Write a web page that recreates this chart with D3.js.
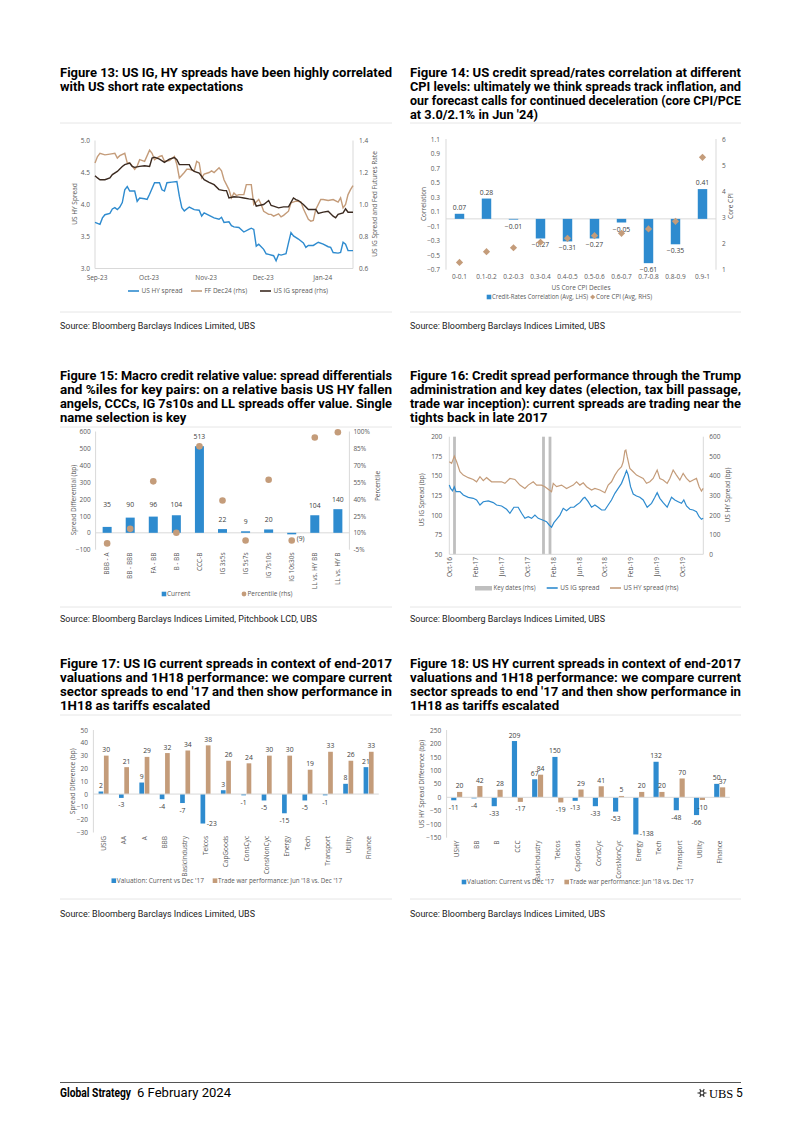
<!DOCTYPE html>
<html><head><meta charset="utf-8">
<script src="https://cdn.jsdelivr.net/npm/d3@7"></script>
<style>body{margin:0;background:#fff}svg{display:block}</style>
</head><body>
<svg id="page" width="802" height="1134"></svg>
<script>
// ---------------- DATA ----------------
// Figure 13 (x = trading-day index from 1 Sep 2023)
const f13XTicks = [0, 21, 44, 67, 91];
const f13XLabels = ['Sep-23', 'Oct-23', 'Nov-23', 'Dec-23', 'Jan-24'];
const f13LeftTicks = [3.0, 3.5, 4.0, 4.5, 5.0];
const f13RightTicks = [0.6, 0.8, 1.0, 1.2, 1.4];
const f13HY = [[0,3.72],[2,3.69],[3,3.79],[4,3.84],[6,3.86],[7,3.93],[8,3.95],[9,3.92],[10,3.96],[11,4.03],[12,4.23],[13,4.28],[14,4.21],[16,4.21],[17,4.05],[18,4.10],[20,4.09],[21,4.08],[22,4.16],[24,4.34],[26,4.34],[27,4.23],[28,4.21],[29,4.34],[31,4.35],[33,4.36],[34,4.13],[35,3.95],[36,3.90],[38,3.96],[40,3.92],[42,3.91],[43,3.82],[44,3.87],[46,3.83],[48,3.79],[50,3.77],[51,3.80],[52,3.72],[54,3.73],[55,3.67],[56,3.65],[58,3.64],[60,3.57],[62,3.61],[63,3.63],[64,3.61],[65,3.35],[66,3.38],[68,3.30],[69,3.23],[70,3.22],[72,3.20],[73,3.12],[74,3.22],[75,3.21],[77,3.23],[78,3.40],[79,3.56],[80,3.51],[82,3.46],[84,3.40],[85,3.33],[86,3.36],[88,3.36],[90,3.41],[92,3.38],[94,3.34],[95,3.33],[96,3.25],[98,3.24],[99,3.25],[100,3.41],[101,3.38],[102,3.28],[104,3.28]];
const f13FF = [[0,1.26],[1,1.30],[2,1.32],[4,1.31],[6,1.315],[8,1.32],[9,1.29],[10,1.305],[12,1.32],[13,1.26],[14,1.26],[16,1.22],[17,1.24],[18,1.28],[20,1.27],[22,1.34],[23,1.32],[24,1.28],[26,1.30],[27,1.305],[28,1.27],[30,1.275],[32,1.30],[33,1.25],[34,1.166],[36,1.20],[37,1.22],[38,1.22],[40,1.21],[41,1.27],[42,1.26],[43,1.166],[44,1.19],[46,1.20],[47,1.21],[48,1.20],[50,1.23],[51,1.21],[52,1.155],[54,1.093],[55,1.041],[56,1.072],[57,1.056],[58,1.062],[60,1.062],[61,1.124],[63,1.124],[64,1.0],[66,1.031],[67,1.0],[68,0.958],[70,0.938],[71,0.938],[72,0.927],[74,0.942],[75,0.923],[76,0.932],[78,0.958],[79,1.01],[81,1.021],[83,1.017],[84,0.973],[86,0.907],[87,0.896],[88,0.90],[89,0.969],[91,1.031],[92,1.031],[94,1.025],[96,1.031],[98,1.015],[99,1.041],[100,0.979],[101,1.0],[102,1.062],[103,1.093],[104,1.118]];
const f13IG = [[0,1.18],[1,1.166],[2,1.155],[4,1.155],[6,1.166],[7,1.187],[9,1.207],[11,1.238],[12,1.249],[14,1.259],[15,1.238],[16,1.232],[18,1.238],[20,1.242],[22,1.238],[23,1.29],[24,1.296],[26,1.284],[28,1.263],[30,1.284],[32,1.294],[33,1.28],[34,1.249],[36,1.249],[38,1.249],[39,1.218],[40,1.207],[42,1.197],[43,1.176],[44,1.155],[46,1.139],[48,1.124],[50,1.093],[52,1.087],[53,1.087],[54,1.041],[56,1.048],[58,1.046],[60,1.041],[62,1.035],[64,1.031],[65,0.99],[66,0.994],[68,1.0],[70,1.025],[71,0.994],[72,0.99],[74,0.979],[76,0.985],[78,0.985],[80,1.041],[81,1.031],[82,1.025],[84,1.0],[86,0.969],[88,0.969],[89,0.969],[90,0.944],[92,0.952],[94,0.958],[96,0.927],[97,0.917],[98,0.938],[100,0.948],[101,0.973],[102,0.952],[104,0.952]];

// Figure 14
const f14Cats = ['0-0.1','0.1-0.2','0.2-0.3','0.3-0.4','0.4-0.5','0.5-0.6','0.6-0.7','0.7-0.8','0.8-0.9','0.9-1'];
const f14Corr = [0.07, 0.28, -0.01, -0.27, -0.31, -0.27, -0.05, -0.61, -0.35, 0.41];
const f14CPI = [1.28, 1.69, 1.84, 2.05, 2.20, 2.30, 2.39, 2.56, 2.85, 5.30];
const f14LeftTicks = [-0.7,-0.5,-0.3,-0.1,0.1,0.3,0.5,0.7,0.9,1.1];
const f14RightTicks = [1,2,3,4,5,6];

// Figure 15
const f15Cats = ['BBB - A','BB - BBB','FA - BB','B - BB','CCC-B','IG 3s5s','IG 5s7s','IG 7s10s','IG 10s30s','LL vs. HY BB','LL vs. HY B'];
const f15Current = [35, 90, 96, 104, 513, 22, 9, 20, -9, 104, 140];
const f15Pct = [0.6, 13.5, 55.7, 10, 86.8, 38.7, 3.2, 57.2, 3.2, 94.7, 99.4];
const f15RatingPairs = ['BBB - A','BB - BBB','FA - BB','B - BB'];
const f15LeftTicks = [-100,0,100,200,300,400,500,600];
const f15RightTicks = [-5,10,25,40,55,70,85,100];

// Figure 16 (x = months since Oct 2016)
const f16XTicks = [0,4,8,12,16,20,24,28,32,36];
const f16XLabels = ['Oct-16','Feb-17','Jun-17','Oct-17','Feb-18','Jun-18','Oct-18','Feb-19','Jun-19','Oct-19'];
const f16KeyDates = [0.8, 14.5, 15.5];
const f16LeftTicks = [50,75,100,125,150,175,200];
const f16RightTicks = [0,100,200,300,400,500,600];
const f16IG = [[0,138.4],[0.2,134],[0.5,131],[0.77,136],[1.03,130],[1.64,130],[2.15,125.6],[2.92,122.7],[3.69,121.4],[4.2,119.3],[4.72,112.9],[5.23,117],[6.0,118],[6.77,115.9],[7.28,112.9],[8.05,111.6],[8.82,107.4],[9.33,102.3],[9.95,110],[10.6,110],[11.13,102.3],[11.64,95.9],[12.15,98],[12.67,95.9],[13.18,100],[13.69,95.9],[14.36,93.8],[14.97,91.6],[15.38,87.4],[15.74,84.4],[16.1,90.4],[16.51,94.6],[17.03,100],[17.54,108.6],[18.05,105.7],[18.67,110],[19.18,110],[19.59,112.9],[20.1,115.9],[20.62,121.4],[20.87,122.7],[21.38,117.1],[21.9,110],[22.41,112.9],[22.92,110],[23.44,106.5],[23.95,106.5],[24.46,112.9],[24.97,119.3],[25.49,127.8],[26.0,134.1],[26.51,140.5],[27.03,151.1],[27.28,156.7],[27.54,151.1],[27.9,136.3],[28.31,126.9],[28.82,124.4],[29.33,122.7],[29.85,119.3],[30.46,110],[31.13,115],[31.64,122.7],[32.0,128.6],[32.41,121.4],[32.92,115.9],[33.54,110],[34.21,122.7],[34.72,119.3],[35.23,117.1],[35.74,115],[36.1,119.3],[36.51,111.6],[37.03,107.4],[37.54,106.5],[38.05,104.4],[38.46,98],[38.82,94.6],[39.08,95.9]];
const f16HY = [[0,472],[0.36,464],[0.77,501],[1.13,472],[1.64,421],[2.15,404],[2.92,391],[3.69,382],[4.2,370],[4.72,396],[5.23,376],[5.74,391],[6.51,370],[7.28,370],[8.05,370],[8.56,362],[9.33,387],[10.1,382],[10.87,353],[11.64,336],[12.15,353],[12.92,370],[13.44,353],[14.2,353],[14.72,345],[15.38,328],[15.74,319],[16.0,362],[16.51,345],[17.28,353],[18.05,336],[18.56,345],[19.08,353],[19.59,370],[20.1,353],[20.62,365],[21.13,345],[21.9,328],[22.41,336],[23.18,328],[23.95,314],[24.46,353],[24.97,370],[25.49,404],[26.0,430],[26.51,447],[26.77,472],[27.03,528],[27.18,532],[27.38,498],[27.79,438],[28.31,421],[28.82,404],[29.33,396],[29.85,387],[30.36,362],[30.87,370],[31.38,387],[32.0,430],[32.41,387],[32.92,379],[33.54,362],[33.95,387],[34.46,430],[34.97,404],[35.49,379],[36.0,413],[36.51,387],[37.03,370],[37.54,379],[38.05,387],[38.46,345],[38.82,323],[39.08,336]];

// Figure 17
const f17Cats = ['USIG','AA','A','BBB','BasicIndustry','Telcos','CapGoods','ConsCyc','ConsNonCyc','Energy','Tech','Transport','Utility','Finance'];
const f17Valuation = [2, -3, 9, -4, -7, -23, 3, -1, -5, -15, -5, -1, 8, 21];
const f17TradeWar = [30, 21, 29, 32, 34, 38, 26, 24, 30, 30, 19, 33, 26, 33];
const f17Ticks = [-30,-20,-10,0,10,20,30,40,50];

// Figure 18
const f18Cats = ['USHY','BB','B','CCC','BasicIndustry','Telcos','CapGoods','ConsCyc','ConsNonCyc','Energy','Tech','Transport','Utility','Finance'];
const f18Valuation = [-11, -4, -33, 209, 67, 150, -13, -33, -53, -138, 132, -48, -66, 50];
const f18TradeWar = [20, 42, 28, -17, 84, -19, 29, 41, 5, 20, 20, 70, -10, 37];
const f18Ticks = [-150,-100,-50,0,50,100,150,200,250];

// Text
const titles = [
  {x:60, y:76.5, w:332, lines:['Figure 13: US IG, HY spreads have been highly correlated','with US short rate expectations']},
  {x:410, y:76.5, w:331, lines:['Figure 14: US credit spread/rates correlation at different','CPI levels: ultimately we think spreads track inflation, and','our forecast calls for continued deceleration (core CPI/PCE',"at 3.0/2.1% in Jun '24)"]},
  {x:60, y:379.5, w:332, lines:['Figure 15: Macro credit relative value: spread differentials','and %iles for key pairs: on a relative basis US HY fallen','angels, CCCs, IG 7s10s and LL spreads offer value. Single','name selection is key']},
  {x:410, y:379.5, w:331, lines:['Figure 16: Credit spread performance through the Trump','administration and key dates (election, tax bill passage,','trade war inception): current spreads are trading near the','tights back in late 2017']},
  {x:60, y:667.5, w:332, lines:['Figure 17: US IG current spreads in context of end-2017','valuations and 1H18 performance: we compare current',"sector spreads to end '17 and then show performance in",'1H18 as tariffs escalated']},
  {x:410, y:667.5, w:331, lines:['Figure 18: US HY current spreads in context of end-2017','valuations and 1H18 performance: we compare current',"sector spreads to end '17 and then show performance in",'1H18 as tariffs escalated']}
];
const sources = [
  {x:60, y:328.5, t:'Source: Bloomberg Barclays Indices Limited, UBS'},
  {x:410, y:328.5, t:'Source: Bloomberg Barclays Indices Limited, UBS'},
  {x:60, y:621.5, t:'Source: Bloomberg Barclays Indices Limited, Pitchbook LCD, UBS'},
  {x:410, y:621.5, t:'Source: Bloomberg Barclays Indices Limited, UBS'},
  {x:60, y:916.5, t:'Source: Bloomberg Barclays Indices Limited, UBS'},
  {x:410, y:916.5, t:'Source: Bloomberg Barclays Indices Limited, UBS'}
];

// ---------------- STYLE ----------------
const BLUE = '#2e8bcf', TAN = '#c49c7a', DARK = '#3b2a20', GRAYTXT = '#595959', AXIS = '#d9d9d9';
const TF = "'Liberation Sans Narrow','Roboto',sans-serif";
const CF = "'Open Sans','Roboto',sans-serif";
const FS = 6.5, LFS = 6.8;
const svg = d3.select('#page');

// ---------------- HELPERS ----------------
function text(g, x, y, s, o = {}) {
  const t = g.append('text').attr('x', x).attr('y', y).text(s)
    .attr('font-family', o.ff || CF).attr('font-size', o.fs || FS)
    .attr('fill', o.fill || GRAYTXT).attr('text-anchor', o.anchor || 'start')
    .attr('font-weight', o.fw || 'normal').attr('dy', o.dy || null);
  if (o.maxW) {
    const n = t.node().getComputedTextLength();
    if (n > o.maxW) t.attr('textLength', o.maxW).attr('lengthAdjust', 'spacingAndGlyphs');
  }
  return t;
}
function hline(x1, x2, y, c = AXIS, w = 1) {
  svg.append('line').attr('x1', x1).attr('x2', x2).attr('y1', y).attr('y2', y).attr('stroke', c).attr('stroke-width', w);
}
function vline(x, y1, y2, c = AXIS, w = 1) {
  svg.append('line').attr('x1', x).attr('x2', x).attr('y1', y1).attr('y2', y2).attr('stroke', c).attr('stroke-width', w);
}
function yAxis(scale, x, side, ticks, fmt, pad) {
  const ax = (side === 'left' ? d3.axisLeft(scale) : d3.axisRight(scale))
    .tickValues(ticks).tickFormat(fmt).tickSize(0).tickPadding(pad);
  const a = svg.append('g').attr('transform', `translate(${x},0)`).call(ax);
  a.select('.domain').remove();
  a.selectAll('text').attr('font-family', CF).attr('font-size', FS).attr('fill', GRAYTXT);
}
function rotLabels(positions, labels, top) {
  positions.forEach((px, i) => {
    svg.append('text').attr('transform', `translate(${px},${top}) rotate(-90)`)
      .attr('text-anchor', 'end').attr('dy', '0.35em')
      .attr('font-family', CF).attr('font-size', FS).attr('fill', GRAYTXT).text(labels[i]);
  });
}
function vtitle(x, y, s) {
  svg.append('text').attr('transform', `translate(${x},${y}) rotate(-90)`)
    .attr('text-anchor', 'middle').attr('dy', '0.35em')
    .attr('font-family', CF).attr('font-size', FS).attr('fill', GRAYTXT).text(s);
}
function legLine(x, y, c, s, maxW) {
  svg.append('line').attr('x1', x).attr('x2', x + 11).attr('y1', y).attr('y2', y).attr('stroke', c).attr('stroke-width', 1.6);
  text(svg, x + 13.5, y, s, {dy: '0.35em', maxW: maxW});
}
function legSquare(x, y, c, s, maxW) {
  svg.append('rect').attr('x', x - 2.3).attr('y', y - 2.3).attr('width', 4.6).attr('height', 4.6).attr('fill', c);
  text(svg, x + 3, y, s, {dy: '0.35em', maxW: maxW});
}
function diamond(g, cx, cy, r, c) {
  g.append('path').attr('d', `M${cx},${cy - r}L${cx + r},${cy}L${cx},${cy + r}L${cx - r},${cy}Z`).attr('fill', c);
}
const DL = {fill: '#404040', fs: LFS};

// ---------------- TITLES / SOURCES / RULES ----------------
titles.forEach(t => {
  const nodes = t.lines.map((l, i) => text(svg, t.x, t.y + i * 14, l, {ff: TF, fs: 12.3, fw: 'bold', fill: '#000'}));
  const nat = nodes.map(n => n.node().getComputedTextLength());
  const r = d3.mean(nat.slice(0, -1).map(n => t.w / n));
  nodes.forEach((n, i) => {
    const L = i < nodes.length - 1 ? t.w : Math.min(t.w, nat[i] * r);
    n.attr('textLength', L).attr('lengthAdjust', 'spacingAndGlyphs');
  });
});
let srcRatio = null;
sources.forEach(s => {
  const n = text(svg, s.x, s.y, s.t, {ff: TF, fs: 9.5, fill: '#222'});
  const nat = n.node().getComputedTextLength();
  if (srcRatio === null) srcRatio = 195 / nat;
  n.attr('textLength', nat * srcRatio).attr('lengthAdjust', 'spacingAndGlyphs');
});
[[60, 392], [410, 741]].forEach(([a, b]) => {
  [123, 427, 715].forEach(y => hline(a, b, y, '#e6e6e6'));
  [312, 607, 899].forEach(y => hline(a, b, y, '#e6e6e6'));
});

// ---------------- FIGURE 13 ----------------
(function () {
  const x = d3.scaleLinear([0, 104], [95, 353]);
  const yL = d3.scaleLinear([3, 5], [268.5, 140.5]);
  const yR = d3.scaleLinear([0.6, 1.4], [268.5, 140.5]);
  vline(x.range()[0], 140.5, 268.5); vline(x.range()[1], 140.5, 268.5); hline(95, 353, 268.5);
  yAxis(yL, 95, 'left', f13LeftTicks, d3.format('.1f'), 5);
  yAxis(yR, 353, 'right', f13RightTicks, d3.format('.1f'), 6);
  f13XTicks.forEach((t, i) => text(svg, x(t) + 2, 279.5, f13XLabels[i], {anchor: 'middle'}));
  const lineL = d3.line().x(d => x(d[0])).y(d => yL(d[1]));
  const lineR = d3.line().x(d => x(d[0])).y(d => yR(d[1]));
  svg.append('path').attr('d', lineL(f13HY)).attr('fill', 'none').attr('stroke', BLUE).attr('stroke-width', 1.4);
  svg.append('path').attr('d', lineR(f13FF)).attr('fill', 'none').attr('stroke', TAN).attr('stroke-width', 1.4);
  svg.append('path').attr('d', lineR(f13IG)).attr('fill', 'none').attr('stroke', DARK).attr('stroke-width', 1.4);
  vtitle(75, 204, 'US HY Spread');
  vtitle(375, 204, 'US IG Spread and Fed Futures Rate');
  legLine(128, 291, BLUE, 'US HY spread', 42);
  legLine(191, 291, TAN, 'FF Dec24 (rhs)', 52);
  legLine(260, 291, DARK, 'US IG spread (rhs)', 60);
})();

// ---------------- FIGURE 14 ----------------
(function () {
  const x = d3.scaleBand(f14Cats, [446, 716]).paddingInner(0.65).paddingOuter(0.325);
  const yL = d3.scaleLinear([-0.7, 1.1], [269.7, 139]);
  const yR = d3.scaleLinear([1, 6], [269.7, 139]);
  vline(446, 139, 269.7); vline(716, 139, 269.7);
  yAxis(yL, 446, 'left', f14LeftTicks, d3.format('.1f'), 6);
  yAxis(yR, 716, 'right', f14RightTicks, d3.format('d'), 6);
  hline(446, 716, yL(0));
  svg.append('g').selectAll('rect').data(f14Corr).join('rect')
    .attr('x', (d, i) => x(f14Cats[i])).attr('width', x.bandwidth())
    .attr('y', d => yL(Math.max(0, d))).attr('height', d => Math.abs(yL(d) - yL(0)))
    .attr('fill', BLUE);
  f14Corr.forEach((d, i) => text(svg, x(f14Cats[i]) + x.bandwidth() / 2, d >= 0 ? yL(d) - 4 : yL(d) + 9, d3.format('.2f')(d), Object.assign({anchor: 'middle'}, DL)));
  const g = svg.append('g');
  f14CPI.forEach((d, i) => diamond(g, x(f14Cats[i]) + x.bandwidth() / 2, yR(d), 3.6, TAN));
  f14Cats.forEach(c => text(svg, x(c) + x.bandwidth() / 2, 279.3, c, {anchor: 'middle'}));
  text(svg, 581, 289.8, 'US Core CPI Deciles', {anchor: 'middle'});
  vtitle(424, 204, 'Correlation');
  vtitle(731, 206, 'Core CPI');
  legSquare(489, 297, BLUE, 'Credit-Rates Correlation (Avg, LHS)', 96);
  diamond(svg, 592.7, 297, 2.6, TAN);
  text(svg, 596, 297, 'Core CPI (Avg, RHS)', {dy: '0.35em', maxW: 56});
})();

// ---------------- FIGURE 15 ----------------
(function () {
  const x = d3.scaleBand(f15Cats, [95.6, 349.4]).paddingInner(0.61).paddingOuter(0.305);
  const yL = d3.scaleLinear([-100, 600], [549.7, 431.5]);
  const yR = d3.scaleLinear([-5, 100], [549.7, 431.5]);
  vline(95.6, 431.5, 549.7); vline(349.4, 431.5, 549.7);
  yAxis(yL, 95.6, 'left', f15LeftTicks, d3.format('d'), 5);
  yAxis(yR, 349.4, 'right', f15RightTicks, d => d + '%', 4);
  hline(95.6, 349.4, yL(0));
  const cx = c => x(c) + x.bandwidth() / 2;
  svg.append('g').selectAll('rect').data(f15Current).join('rect')
    .attr('x', (d, i) => x(f15Cats[i])).attr('width', x.bandwidth())
    .attr('y', d => yL(Math.max(0, d))).attr('height', d => Math.abs(yL(d) - yL(0)))
    .attr('fill', BLUE);
  const groupMax = d3.max(f15Current.filter((d, i) => f15RatingPairs.includes(f15Cats[i])));
  f15Current.forEach((d, i) => {
    const c = f15Cats[i];
    if (d >= 0) {
      const top = f15RatingPairs.includes(c) ? yL(groupMax) - 8 : yL(d) - 7;
      text(svg, cx(c), top, d3.format('d')(d), Object.assign({anchor: 'middle'}, DL));
    } else {
      text(svg, cx(c) + 5, yL(d) + 7, '(' + Math.abs(d) + ')', DL);
    }
  });
  svg.append('g').selectAll('circle').data(f15Pct).join('circle')
    .attr('cx', (d, i) => cx(f15Cats[i])).attr('cy', d => yR(d)).attr('r', 3.3).attr('fill', TAN);
  rotLabels(f15Cats.map(cx), f15Cats, 552.5);
  vtitle(73.5, 500, 'Spread Differential (bp)');
  vtitle(378, 486, 'Percentile');
  legSquare(164, 594, BLUE, 'Current');
  svg.append('circle').attr('cx', 244).attr('cy', 594).attr('r', 2.4).attr('fill', TAN);
  text(svg, 247.5, 594, 'Percentile (rhs)', {dy: '0.35em', maxW: 45});
})();

// ---------------- FIGURE 16 ----------------
(function () {
  const x = d3.scaleLinear([0, 39.1], [449.3, 703.3]);
  const yL = d3.scaleLinear([50, 200], [554.3, 436.7]);
  const yR = d3.scaleLinear([0, 600], [554.3, 436.7]);
  svg.append('g').selectAll('rect').data(f16KeyDates).join('rect')
    .attr('x', d => x(d) - 1.4).attr('width', 2.8).attr('y', yR(600)).attr('height', yR(0) - yR(600)).attr('fill', '#bfbfbf');
  vline(449.3, 436.7, 554.3); vline(703.3, 436.7, 554.3); hline(449.3, 703.3, 554.3);
  yAxis(yL, 449.3, 'left', f16LeftTicks, d3.format('d'), 7);
  yAxis(yR, 703.3, 'right', f16RightTicks, d3.format('d'), 6);
  const lineL = d3.line().x(d => x(d[0])).y(d => yL(d[1]));
  const lineR = d3.line().x(d => x(d[0])).y(d => yR(d[1]));
  svg.append('path').attr('d', lineL(f16IG)).attr('fill', 'none').attr('stroke', BLUE).attr('stroke-width', 1.2);
  svg.append('path').attr('d', lineR(f16HY)).attr('fill', 'none').attr('stroke', TAN).attr('stroke-width', 1.2);
  rotLabels(f16XTicks.map(t => x(t)), f16XLabels, 557);
  vtitle(421.7, 500, 'US IG Spread (bp)');
  vtitle(728, 495, 'US HY Spread (bp)');
  svg.append('rect').attr('x', 475).attr('y', 586).attr('width', 17).attr('height', 4.5).attr('fill', '#bfbfbf');
  text(svg, 493.5, 588, 'Key dates (rhs)', {dy: '0.35em', maxW: 42});
  legLine(546.7, 588, BLUE, 'US IG spread', 40);
  legLine(610, 588, TAN, 'US HY spread (rhs)', 55);
})();

// ---------------- FIGURES 17 & 18 ----------------
function groupedBars(cats, val, trade, xr, yd, yr, ticks, labelTop, ytitleX, ytitle, legY, legX1, legX2, subW) {
  const x = d3.scaleBand(cats, xr);
  const xs = d3.scaleBand(['val', 'trade'], [-subW, subW]).paddingInner(0.12);
  const y = d3.scaleLinear(yd, yr);
  vline(xr[0], yr[1], yr[0]);
  yAxis(y, xr[0], 'left', ticks, d3.format('d'), 5.4);
  const cx = c => x(c) + x.bandwidth() / 2;
  [['val', val, BLUE], ['trade', trade, TAN]].forEach(([k, arr, col]) => {
    svg.append('g').selectAll('rect').data(arr).join('rect')
      .attr('x', (d, i) => cx(cats[i]) + xs(k)).attr('width', xs.bandwidth())
      .attr('y', d => y(Math.max(0, d))).attr('height', d => Math.abs(y(d) - y(0)))
      .attr('fill', col);
    arr.forEach((d, i) => {
      const bx = cx(cats[i]) + xs(k) + xs.bandwidth() / 2;
      if (d >= 0) text(svg, bx, y(d) - 3.5, d, Object.assign({anchor: 'middle'}, DL));
      else if (y(d) + 10 > yr[0]) text(svg, bx + 4, y(d) + 2, d, DL);
      else text(svg, bx, y(d) + 9.5, d, Object.assign({anchor: 'middle'}, DL));
    });
  });
  hline(xr[0], xr[1], y(0));
  rotLabels(cats.map(cx), cats, labelTop);
  vtitle(ytitleX, (yr[0] + yr[1]) / 2, ytitle);
  legSquare(legX1, legY, BLUE, "Valuation: Current vs Dec '17", legX2 - legX1 - 9);
  legSquare(legX2, legY, TAN, "Trade war performance: Jun '18 vs. Dec '17", 124);
}
groupedBars(f17Cats, f17Valuation, f17TradeWar, [93.4, 378.8], [-30, 50], [832.5, 730], f17Ticks, 836, 72.5, 'Spread Diference (bp)', 880.7, 113.8, 215, 5);
groupedBars(f18Cats, f18Valuation, f18TradeWar, [446.6, 729.8], [-150, 250], [837.7, 730], f18Ticks, 840.5, 421.7, 'US HY Spread Difference (bp)', 882, 464, 566.7, 5.5);

// ---------------- FOOTER ----------------
hline(60, 741, 1082.5, '#555', 1);
const gs = text(svg, 60, 1097, 'Global Strategy', {ff: TF, fs: 12, fw: 'bold', fill: '#000'});
gs.attr('textLength', 71).attr('lengthAdjust', 'spacingAndGlyphs');
const dt = text(svg, 137, 1097, '6 February 2024', {ff: TF, fs: 12, fill: '#000'});
dt.attr('textLength', 94).attr('lengthAdjust', 'spacingAndGlyphs');
const logo = svg.append('g').attr('transform', 'translate(702,1093)').attr('stroke', '#333').attr('stroke-width', 1.1).attr('fill', 'none');
[0, 60, 120].forEach(a => logo.append('line').attr('x1', -4.5).attr('x2', 4.5).attr('y1', 0).attr('y2', 0).attr('transform', `rotate(${a})`));
logo.append('circle').attr('r', 2).attr('fill', '#fff');
text(svg, 709, 1097.5, 'UBS', {ff: "'Liberation Serif',serif", fs: 12.5, fill: '#000'});
text(svg, 736, 1097, '5', {ff: TF, fs: 12, fill: '#000'});
</script>
</body></html>
